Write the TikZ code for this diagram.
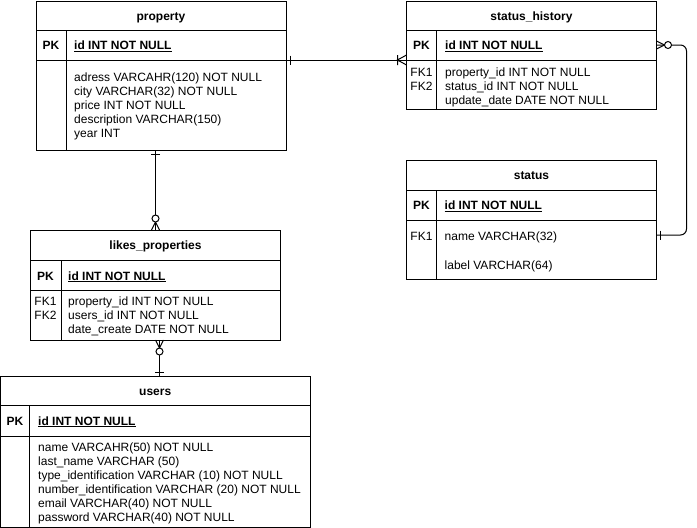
\documentclass[tikz,border=0pt]{standalone}
\usepackage{fontspec}
\setmainfont{Liberation Sans}
\usetikzlibrary{positioning}

\newcommand\tblfont{\fontsize{12pt}{14pt}\selectfont}

\tikzset{
  tbl/.style={draw, line width=1pt, inner sep=0pt, outer sep=0pt, anchor=north west,
    minimum width=250pt, text height=9pt, text depth=0pt},
  keytxt/.style={font=\tblfont\bfseries, inner sep=0pt, text height=9pt, text depth=0pt},
  fld/.style={anchor=base west, inner sep=0pt},
  link/.style={line width=1pt},
  pics/erbar/.style={code={\draw[link] (4,-4.5) -- (4,4.5);}},
  pics/ercrowbar/.style={code={\draw[link] (0,-5) -- (9,0) -- (0,5) (9,-5) -- (9,5);}},
  pics/ercrowzero/.style={code={
    \draw[link] (0,-4) -- (8,0) -- (0,4);
    \draw[link, fill=white] (11.5,0) circle (3.5);}},
}

\begin{document}
\begin{tikzpicture}[x=1pt, y=-1pt, font=\tblfont]
  \useasboundingbox (0,0) rectangle (697,528);

  % property
  \node[tbl, minimum height=29pt] (prop) at (36,1) {\textbf{property}};
  \node[tbl, minimum height=30pt, below=0pt of prop] (propPK) {};
  \node[tbl, minimum height=90pt, below=0pt of propPK] (propBody) {};
  \draw[line width=1pt] ([xshift=30pt]propPK.north west) -- ([xshift=30pt]propBody.south west);
  \node[keytxt] (propK) at ([xshift=15pt]propPK.west) {PK};
  \node[keytxt, anchor=west] (propId) at ([xshift=38pt]propPK.west) {\underline{id INT NOT NULL}};
  \foreach \txt [count=\i from 0] in {adress VARCAHR(120) NOT NULL, city VARCHAR(32) NOT NULL,
      price INT NOT NULL, description VARCHAR(150), year INT} {
    \node[fld] (propF\i) at (74, {81+14*\i}) {\txt};
  }

  % status_history
  \node[tbl, minimum height=29pt] (hist) at (406.5,1) {\textbf{status\_history}};
  \node[tbl, minimum height=30pt, below=0pt of hist] (histPK) {};
  \node[tbl, minimum height=49pt, below=0pt of histPK] (histBody) {};
  \draw[line width=1pt] ([xshift=30pt]histPK.north west) -- ([xshift=30pt]histBody.south west);
  \node[keytxt] (histK) at ([xshift=15pt]histPK.west) {PK};
  \node[keytxt, anchor=west] (histId) at ([xshift=38.5pt]histPK.west) {\underline{id INT NOT NULL}};
  \foreach \k/\txt [count=\i from 0] in {FK1/property\_id INT NOT NULL, FK2/status\_id INT NOT NULL,
      /update\_date DATE NOT NULL} {
    \node[fld] (histF\i) at (445, {76+14*\i}) {\txt};
    \node[anchor=base, inner sep=0pt] (histFK\i) at (421.5, {76+14*\i}) {\k};
  }

  % status
  \node[tbl, minimum height=29.5pt] (st) at (406.5,160.5) {\textbf{status}};
  \node[tbl, minimum height=30.5pt, below=0pt of st] (stPK) {};
  \node[tbl, minimum height=59pt, below=0pt of stPK] (stBody) {};
  \draw[line width=1pt] ([xshift=30pt]stPK.north west) -- ([xshift=30pt]stBody.south west);
  \node[keytxt] (stK) at ([xshift=15pt]stPK.west) {PK};
  \node[keytxt, anchor=west] (stId) at ([xshift=38pt]stPK.west) {\underline{id INT NOT NULL}};
  \node[anchor=base, inner sep=0pt] (stFK) at (421.5, 240) {FK1};
  \node[fld] (stF0) at (444.5, 240) {name VARCHAR(32)};
  \node[fld] (stF1) at (444.5, 269.5) {label VARCHAR(64)};

  % likes_properties
  \node[tbl, minimum height=30.5pt] (likes) at (30.5,230) {\textbf{likes\_properties}};
  \node[tbl, minimum height=30pt, below=0pt of likes] (likesPK) {};
  \node[tbl, minimum height=49.5pt, below=0pt of likesPK] (likesBody) {};
  \draw[line width=1pt] ([xshift=30.5pt]likesPK.north west) -- ([xshift=30.5pt]likesBody.south west);
  \node[keytxt] (likesK) at ([xshift=15pt]likesPK.west) {PK};
  \node[keytxt, anchor=west] (likesId) at ([xshift=37.5pt]likesPK.west) {\underline{id INT NOT NULL}};
  \foreach \k/\txt [count=\i from 0] in {FK1/property\_id INT NOT NULL, FK2/users\_id INT NOT NULL,
      /date\_create DATE NOT NULL} {
    \node[fld] (likesF\i) at (68, {305.5+14*\i}) {\txt};
    \node[anchor=base, inner sep=0pt] (likesFK\i) at (45.5, {305.5+14*\i}) {\k};
  }

  % users
  \node[tbl, minimum width=309.5pt, minimum height=29pt] (users) at (0.5,376) {\textbf{users}};
  \node[tbl, minimum width=309.5pt, minimum height=31pt, below=0pt of users] (usersPK) {};
  \node[tbl, minimum width=309.5pt, minimum height=91pt, below=0pt of usersPK] (usersBody) {};
  \draw[line width=1pt] ([xshift=29pt]usersPK.north west) -- ([xshift=29pt]usersBody.south west);
  \node[keytxt] (usersK) at ([xshift=14.5pt]usersPK.west) {PK};
  \node[keytxt, anchor=west] (usersId) at ([xshift=37.5pt]usersPK.west) {\underline{id INT NOT NULL}};
  \foreach \txt [count=\i from 0] in {name VARCAHR(50) NOT NULL, last\_name VARCHAR (50),
      type\_identification VARCHAR (10) NOT NULL, number\_identification VARCHAR (20) NOT NULL,
      email VARCHAR(40) NOT NULL, password VARCHAR(40) NOT NULL} {
    \node[fld] (usersF\i) at (38, {451.5+14*\i}) {\txt};
  }

  % relations
  \draw[link] (propBody.north east) -- (histBody.north west);
  \pic at (propBody.north east) {erbar};
  \pic[rotate=180] at (histBody.north west) {ercrowbar};

  \coordinate (stLink) at ([yshift=-14.5pt]stBody.north east);
  \draw[link, rounded corners=6pt] (histPK.east) -| ([xshift=30pt]stLink) -- (stLink);
  \pic at (histPK.east) {ercrowzero};
  \pic at (stLink) {erbar};

  \coordinate (propDown) at (propBody.south -| likes.north);
  \draw[link] (propDown) -- (likes.north);
  \pic[rotate=-90] at (propDown) {erbar};
  \pic[rotate=90] at (likes.north) {ercrowzero};

  \coordinate (likesDown) at ([xshift=4pt]likesBody.south);
  \coordinate (usersUp) at (likesDown |- users.north);
  \draw[link] (likesDown) -- (usersUp);
  \pic[rotate=-90] at (likesDown) {ercrowzero};
  \pic[rotate=90] at (usersUp) {erbar};
\end{tikzpicture}
\end{document}
